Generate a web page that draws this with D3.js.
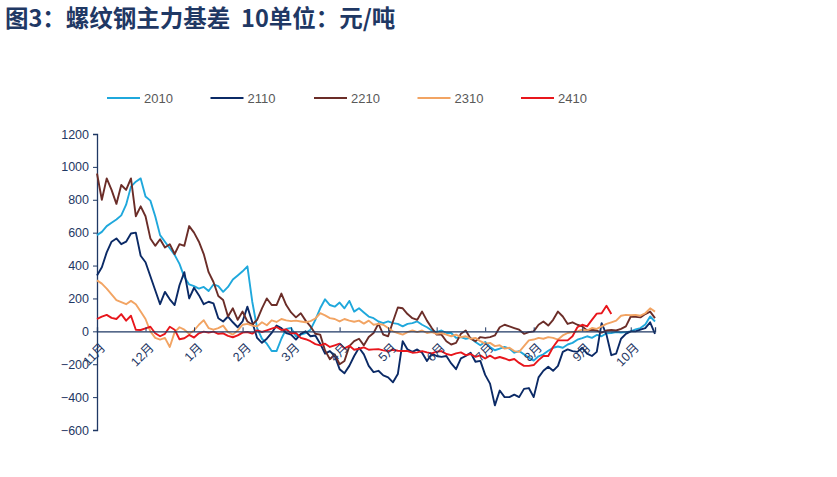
<!DOCTYPE html>
<html>
<head>
<meta charset="utf-8">
<script src="https://cdn.jsdelivr.net/npm/d3@7"></script>
<style>
  body { margin: 0; background: #fff; }
  svg text { font-family: "Liberation Sans", Arial, "Noto Sans CJK SC", sans-serif; }
  .title { font-family: "Noto Sans CJK SC", sans-serif; font-weight: bold; font-size: 23.5px; fill: #1F3864; white-space: pre; }
  .legend text { font-size: 13px; fill: #595959; }
  .axis text { font-size: 12.5px; fill: #1F3864; }
  .axis path, .axis line { stroke: #1F3864; }
</style>
</head>
<body>
<svg width="837" height="477"></svg>
<script>
// 月份刻度（从11月到次年10月）
const months = ['11月', '12月', '1月', '2月', '3月', '4月', '5月', '6月', '7月', '8月', '9月', '10月'];
const yTicks = [-600, -400, -200, 0, 200, 400, 600, 800, 1000, 1200];
const step = 0.1; // 每个点间隔 0.1 个月

// 各合约基差（元/吨）
const s2010 = [585, 605, 640, 660, 680, 705, 770, 880, 910, 930, 820, 795, 700, 585, 545, 505, 465, 410, 330, 285,
  275, 260, 270, 245, 285, 275, 240, 270, 315, 340, 365, 395, 180, 20, -45, -75, -120, -120, -45, 15,
  20, -30, -20, -10, 10, 70, 140, 195, 160, 150, 175, 140, 185, 120, 140, 115, 90, 80, 60, 50,
  60, 50, 45, 30, 45, 50, 60, 40, 25, 5, -5, 5, -10, -10, -40, -35, -45, -40, -65, -85,
  -65, -95, -115, -105, -95, -105, -130, -120, -140, -160, -178, -152, -140, -118, -100, -92, -100, -80, -70, -51,
  -41, -30, -40, -22, -30, -12, -10, -5, -8, -5, 0, 12, 20, 42, 90, 60];

const s2110 = [340, 390, 480, 545, 565, 530, 545, 595, 600, 460, 420, 335, 250, 165, 240, 195, 160, 280, 360, 200,
  265, 220, 165, 180, 170, 80, 60, 90, 55, 25, 60, 150, 55, -40, -70, -45, -10, 35, 20, -10,
  -20, -50, -15, 0, -30, -25, -75, -136, -120, -150, -230, -255, -210, -150, -100, -140, -210, -248, -240, -268,
  -280, -310, -260, -60, -110, -125, -110, -130, -180, -136, -150, -155, -150, -195, -230, -165, -150, -130, -185, -180,
  -265, -318, -450, -360, -400, -400, -385, -400, -350, -345, -400, -280, -240, -215, -240, -210, -125, -110, -120, -125,
  -100, -135, -150, -125, 50, -20, -145, -135, -45, -15, 0, 0, 10, 20, 55, -15];

const s2210 = [960, 800, 930, 860, 775, 890, 860, 930, 700, 760, 700, 565, 520, 560, 510, 530, 470, 530, 520, 640,
  600, 545, 470, 360, 300, 215, 190, 90, 140, 70, 120, 60, 40, 70, 140, 200, 160, 160, 230, 160,
  115, 85, 110, 65, 30, -15, -20, -116, -170, -140, -200, -180, -90, -60, -45, -85, -35, -10, 47, -20,
  -30, 60, 145, 140, 105, 80, 70, 120, 65, 20, -20, -20, -60, -80, -70, -15, 5, -45, -60, -35,
  -40, -35, -25, 25, 40, 30, 20, 10, -15, -5, 0, 40, 60, 35, 70, 120, 90, 45, 55, 40,
  30, 5, 10, 5, -8, 5, 8, 5, 15, 30, 90, 88, 85, 105, 120, 80];

const s2310 = [310, 290, 260, 225, 190, 178, 165, 185, 165, 120, 75, 0, -40, -50, -40, -95, -5, 25, 10, -15,
  5, 40, 68, 20, 10, 20, 35, -5, -20, 5, 40, 45, 35, 30, 55, 37, 67, 57, 75, 67,
  62, 65, 60, 55, 62, 78, 110, 97, 80, 75, 60, 75, 65, 58, 65, 47, 65, 40, 45, 40,
  20, 0, -10, -20, -5, 5, -5, 5, -10, -5, -15, -10, -20, -30, -20, -35, -30, -45, -40, -60,
  -75, -70, -90, -85, -105, -100, -120, -125, -90, -55, -50, -40, -45, -35, -40, -50, -25, -10, -5, 0,
  10, 5, 20, 15, 30, 45, 55, 65, 95, 100, 98, 100, 95, 110, 140, 120];

const s2410 = [75, 90, 100, 82, 75, 105, 65, 95, 10, 8, 18, 28, -12, -30, -15, 28, 10, -48, -42, -22,
  -38, -12, -2, -8, -2, -15, -12, -28, -36, -25, -8, -4, -14, 6, -4, 6, 16, 26, 8, 12,
  -12, -10, -40, -48, -60, -78, -85, -75, -95, -85, -75, -104, -88, -112, -106, -98, -112, -110, -108, -116,
  -120, -112, -118, -120, -120, -130, -128, -120, -128, -134, -124, -120, -138, -145, -134, -128, -145, -138, -155, -146,
  -165, -148, -165, -156, -165, -176, -168, -192, -210, -210, -205, -175, -150, -150, -95, -55, -55, -55, -30, 25,
  40, 30, 70, 108, 110, 155, 105];

const series = [
  { name: '2010', values: s2010, color: '#1FA8DC' },
  { name: '2110', values: s2110, color: '#0B2A66' },
  { name: '2210', values: s2210, color: '#6B2D28' },
  { name: '2310', values: s2310, color: '#F2A463' },
  { name: '2410', values: s2410, color: '#E8161C' }
];

const svg = d3.select('svg');

const x = d3.scaleLinear().domain([0, 11.5]).range([97, 655]);
const y = d3.scaleLinear().domain([-600, 1200]).range([430, 134]);

// 标题
svg.append('text')
  .attr('class', 'title')
  .attr('x', 5)
  .attr('y', 27)
  .text('图3：螺纹钢主力基差  10单位：元/吨');

// 图例
const legend = svg.append('g').attr('class', 'legend');
series.forEach((s, i) => {
  const lx = 107 + i * 103.5;
  legend.append('line')
    .attr('x1', lx).attr('x2', lx + 33)
    .attr('y1', 98).attr('y2', 98)
    .attr('stroke', s.color)
    .attr('stroke-width', 2);
  legend.append('text')
    .attr('x', lx + 37)
    .attr('y', 102.5)
    .text(s.name);
});

// Y 轴
const yAxis = svg.append('g')
  .attr('class', 'axis')
  .attr('transform', 'translate(97,0)')
  .call(d3.axisLeft(y).tickValues(yTicks).tickSize(4).tickPadding(4).tickFormat(d3.format('d')));
yAxis.select('.domain').attr('stroke-width', 1.3);

// 折线
const line = d3.line()
  .x((d, i) => x(i * step))
  .y(d => y(d));

svg.append('g')
  .selectAll('path')
  .data(series)
  .enter()
  .append('path')
  .attr('d', s => line(s.values))
  .attr('fill', 'none')
  .attr('stroke', s => s.color)
  .attr('stroke-width', 1.9)
  .attr('stroke-linejoin', 'round');

// X 轴（零线）
const xAxis = svg.append('g')
  .attr('class', 'axis')
  .attr('transform', `translate(0,${y(0)})`)
  .call(d3.axisBottom(x).tickValues(d3.range(months.length)).tickSize(-4).tickFormat(''));
xAxis.select('.domain').attr('stroke', '#44546A').attr('stroke-width', 1.3);
xAxis.selectAll('.tick line').attr('stroke', '#44546A');

// 月份标签（斜放）
svg.append('g')
  .attr('class', 'axis')
  .selectAll('text')
  .data(months)
  .enter()
  .append('text')
  .attr('transform', (d, i) => `translate(${x(i) + 3},${y(0) + 11}) rotate(-45)`)
  .attr('text-anchor', 'end')
  .attr('dy', '0.7em')
  .text(d => d);
</script>
</body>
</html>
